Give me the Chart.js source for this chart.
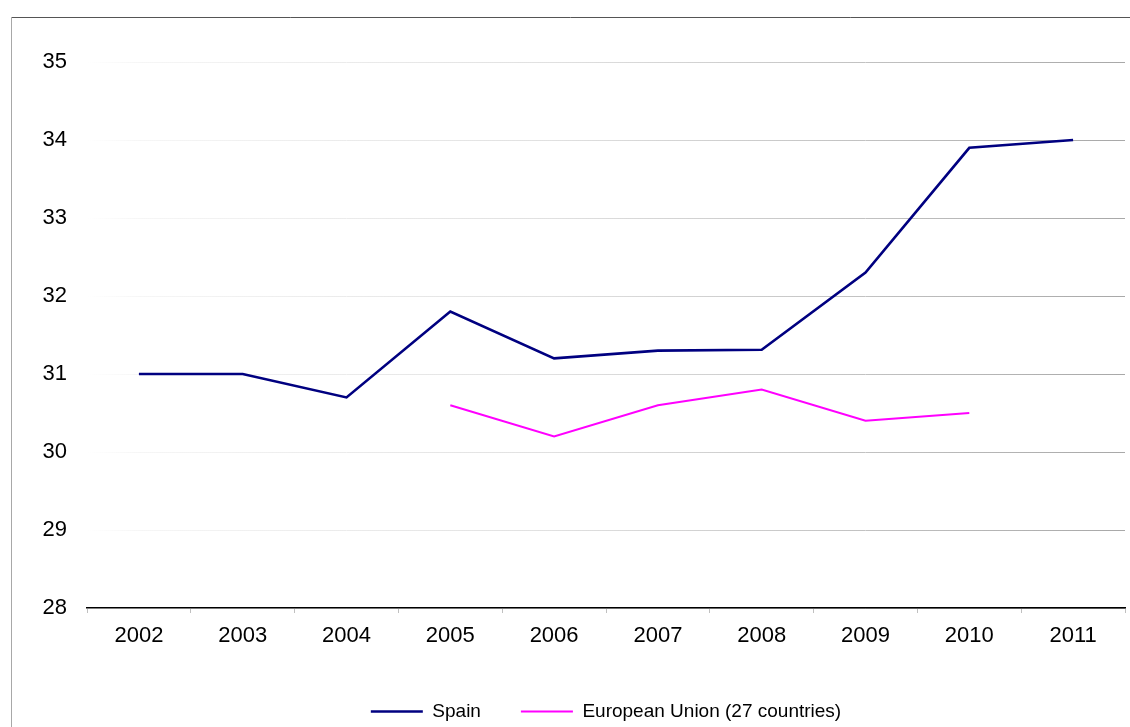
<!DOCTYPE html>
<html>
<head>
<meta charset="utf-8">
<script src="https://cdn.jsdelivr.net/npm/chart.js@4.4.1/dist/chart.umd.min.js"></script>
<style>
  html, body { margin: 0; padding: 0; background: #fff; }
  #wrap { position: relative; width: 1130px; height: 727px; }
</style>
</head>
<body>
<div id="wrap"><canvas id="c" width="1130" height="727"></canvas></div>
<script>
const years = ['2002','2003','2004','2005','2006','2007','2008','2009','2010','2011'];
const spain = [31.0, 31.0, 30.7, 31.8, 31.2, 31.3, 31.31, 32.3, 33.9, 34.0];
const eu27 = [null, null, null, 30.6, 30.2, 30.6, 30.8, 30.4, 30.5, null];
const seriesNames = ['Spain', 'European Union (27 countries)'];
const yMin = 28, yMax = 35;

const FONT = "'Liberation Sans', Arial, sans-serif";

const frame = {
  id: 'frame',
  beforeDraw(chart) {
    const ctx = chart.ctx;
    ctx.save();
    ctx.fillStyle = '#fff';
    ctx.fillRect(0, 0, chart.width, chart.height);
    ctx.lineWidth = 1;
    ctx.strokeStyle = '#555';
    ctx.beginPath(); ctx.moveTo(11, 17.5); ctx.lineTo(chart.width, 17.5); ctx.stroke();
    ctx.strokeStyle = '#a8a8a8';
    ctx.beginPath(); ctx.moveTo(11.5, 17); ctx.lineTo(11.5, chart.height); ctx.stroke();
    ctx.restore();
  }
};

function gridColor(context) {
  const chart = context.chart;
  const a = chart.chartArea;
  if (!a) return '#ccc';
  const g = chart.ctx.createLinearGradient(a.left, 0, a.right, 0);
  g.addColorStop(0, 'rgba(255,255,255,1)');
  g.addColorStop(0.05, '#f6f6f6');
  g.addColorStop(0.45, '#e0e0e0');
  g.addColorStop(1, '#a8a8a8');
  return g;
}

new Chart(document.getElementById('c'), {
  type: 'line',
  data: {
    labels: years,
    datasets: [
      { label: seriesNames[0], data: spain, borderColor: '#000080', backgroundColor: '#000080',
        borderWidth: 2.6, pointRadius: 0, pointHoverRadius: 0, tension: 0, spanGaps: false },
      { label: seriesNames[1], data: eu27, borderColor: '#ff00ff', backgroundColor: '#ff00ff',
        borderWidth: 2, pointRadius: 0, pointHoverRadius: 0, tension: 0, spanGaps: false }
    ]
  },
  options: {
    responsive: false,
    animation: false,
    devicePixelRatio: 1,
    layout: { padding: { top: 62, right: 5, left: 0, bottom: -4 } },
    scales: {
      x: {
        offset: true,
        grid: { offset: true, drawOnChartArea: false, drawTicks: true, tickLength: 5, tickColor: '#c0c0c0', tickWidth: 1 },
        border: { display: true, color: '#000', width: 1.5 },
        ticks: { color: '#000', font: { family: FONT, size: 22 }, padding: 10, maxRotation: 0 },
        afterFit(scale) { scale.height = 54; }
      },
      y: {
        min: yMin, max: yMax,
        grid: { color: gridColor, lineWidth: 1, drawTicks: false },
        border: { display: false },
        ticks: { stepSize: 1, color: '#000', font: { family: FONT, size: 22 }, padding: 20 },
        afterFit(scale) { scale.width = 87; }
      }
    },
    plugins: {
      tooltip: { enabled: false },
      legend: {
        position: 'bottom',
        fullSize: false,
        labels: {
          color: '#000',
          font: { family: FONT, size: 19 },
          usePointStyle: true,
          pointStyle: 'line',
          pointStyleWidth: 52,
          padding: 40
        }
      }
    }
  },
  plugins: [frame]
});
</script>
</body>
</html>
